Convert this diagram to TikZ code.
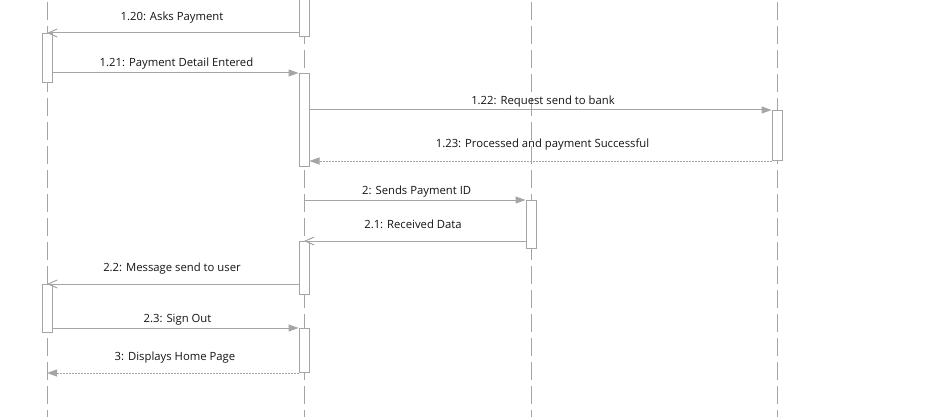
\documentclass[tikz,border=0pt]{standalone}
\usepackage{fontspec}
\setmainfont{Open Sans}
\usetikzlibrary{arrows.meta}
\definecolor{ln}{RGB}{165,165,165}
\definecolor{tx}{RGB}{20,20,20}
\begin{document}
\begin{tikzpicture}[x=1pt,y=-1pt,
 life/.style={draw=ln,line width=1pt,dash pattern=on 18pt off 6pt,dash phase=17pt},
 act/.style={draw=ln,fill=white,line width=1pt,minimum width=10pt,inner sep=0pt,anchor=north,rectangle},
 msg/.style={draw=ln,line width=1pt},
 sync/.style={msg,-{Triangle[length=10pt,width=7pt,fill=ln]}},
 ret/.style={msg,dash pattern=on 2pt off 1pt,-{Triangle[length=10pt,width=7pt,fill=ln]}},
 reply/.style={msg,-{Straight Barb[length=9pt,width=8pt]}},
 lbl/.style={text=tx,font=\fontsize{11.3}{13}\selectfont,anchor=base,inner sep=0pt}]
\useasboundingbox[fill=white] (0,0) rectangle (933,417);
% lifelines
\coordinate (L1t) at (47,-5);  \coordinate (L1b) at (47,420);
\coordinate (L2t) at (304,-5); \coordinate (L2b) at (304,420);
\coordinate (L3t) at (531,-5); \coordinate (L3b) at (531,420);
\coordinate (L4t) at (777,-5); \coordinate (L4b) at (777,420);
\draw[life] (L1t) -- (L1b);
\draw[life] (L2t) -- (L2b);
\draw[life] (L3t) -- (L3b);
\draw[life] (L4t) -- (L4b);
% activation boxes
\node[act,minimum height=46pt] (P1) at (304,-10) {};
\node[act,minimum height=49pt] (U1) at (47,33) {};
\node[act,minimum height=93pt] (P2) at (304,73) {};
\node[act,minimum height=50pt] (B1) at (777,110) {};
\node[act,minimum height=48pt] (D1) at (531,200) {};
\node[act,minimum height=53pt] (P3) at (304,241) {};
\node[act,minimum height=48pt] (U2) at (47,284) {};
\node[act,minimum height=44pt] (P4) at (304,328) {};
% messages
\draw[reply] (P1.west |- U1.north) -- (U1.north);
\draw[sync] (U1.east |- P2.north) -- (P2.north west);
\draw[sync] (P2.east |- B1.north) -- (B1.north west);
\draw[ret] (B1.south west) -- (P2.east |- B1.south);
\draw[sync] (L2t |- D1.north) -- (D1.north west);
\draw[reply] (D1.west |- P3.north) -- (P3.north);
\draw[reply] (P3.west |- U2.north) -- (U2.north);
\draw[sync] (U2.east |- P4.north) -- (P4.north west);
\draw[ret] (P4.south west) -- (L1t |- P4.south);
% labels
\node[lbl] (t1) at (172,20.7) {1.20: Asks Payment};
\node[lbl] (t2) at (176.5,66.7) {1.21: Payment Detail Entered};
\node[lbl] (t3) at (543,104) {1.22: Request send to bank};
\node[lbl] (t4) at (542.5,147.7) {1.23: Processed and payment Successful};
\node[lbl] (t5) at (416.7,194) {2: Sends Payment ID};
\node[lbl] (t6) at (413,228.3) {2.1: Received Data};
\node[lbl] (t7) at (172,271.7) {2.2: Message send to user};
\node[lbl] (t8) at (177.5,322.3) {2.3: Sign Out};
\node[lbl] (t9) at (175,360) {3: Displays Home Page};
\end{tikzpicture}
\end{document}
